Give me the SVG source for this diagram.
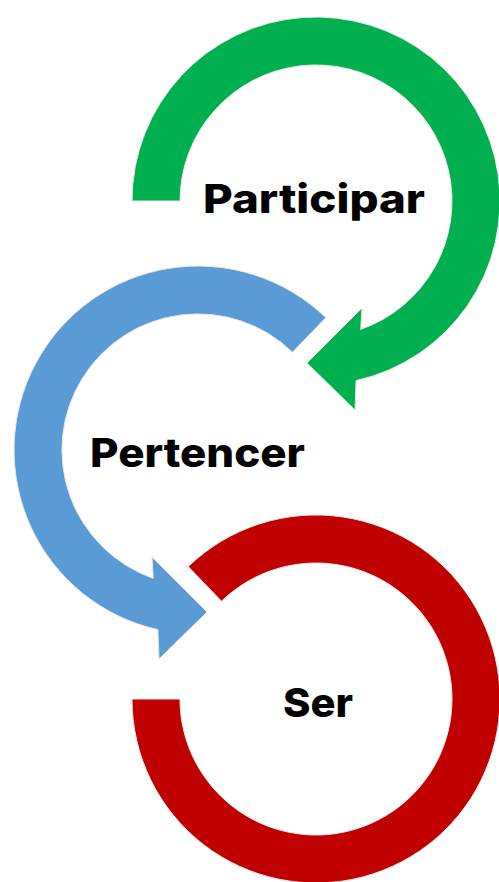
<svg xmlns="http://www.w3.org/2000/svg" width="499" height="882" viewBox="0 0 499 882">
  <style>
    .shape { stroke: #e6e6e6; stroke-width: 1; stroke-linejoin: miter; }
    .green { fill: #00B050; }
    .blue { fill: #5B9BD5; }
    .red { fill: #C00000; }
    .label { font-family: Inter, "Open Sans", "Liberation Sans", sans-serif; font-weight: 800; font-size: 40px; fill: #000; text-anchor: middle; }
  </style>
  <rect width="499" height="882" fill="#ffffff"/>
  <g id="connectors"></g>
  <g id="participar">
    <path class="shape green" d="M 132 201 A 184 184 0 1 1 356.1 380.6 L 355 410 L 307 363 L 362 308 L 360.7 329.4 A 136 136 0 1 0 180 201 Z"/>
    <text class="label" x="314" y="213" textLength="222" lengthAdjust="spacingAndGlyphs">Participar</text>
  </g>
  <g id="pertencer">
    <path class="shape blue" d="M 325.8 317.6 A 184 184 0 1 0 157.9 629.6 L 159 659 L 207 612 L 152 557 L 153.3 578.4 A 136 136 0 1 1 292.5 352.2 Z"/>
    <text class="label" x="197.5" y="467" textLength="215" lengthAdjust="spacingAndGlyphs">Pertencer</text>
  </g>
  <g id="ser">
    <path class="shape red" d="M 132 699 A 184 184 0 1 0 188.2 566.6 L 221.5 601.2 A 136 136 0 1 1 180 699 Z"/>
    <text class="label" x="318" y="717" textLength="70" lengthAdjust="spacingAndGlyphs">Ser</text>
  </g>
</svg>
